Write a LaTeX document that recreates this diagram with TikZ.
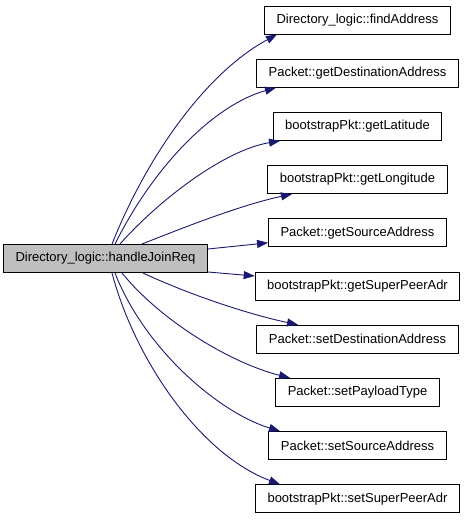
\documentclass[tikz,border=0pt]{standalone}
\usepackage{fontspec}
\setmainfont{Liberation Sans}
\usetikzlibrary{arrows.meta}
\definecolor{edgeblue}{HTML}{191970}
\definecolor{srcgray}{HTML}{BFBFBF}
\tikzset{
    fn/.style={draw=black, fill=white, line width=1pt, inner xsep=12pt,
        minimum height=28pt, font=\fontsize{13}{15}\selectfont},
    call/.style={edgeblue, line width=0.9pt,
        -{Triangle[length=11pt,width=8pt]}}
}
\begin{document}
\begin{tikzpicture}[x=1pt, y=-1pt]
    \useasboundingbox (0,0) rectangle (464,520);
    % caller
    \node[fn, fill=srcgray] (src) at (105.5,258.5) {Directory\_logic::handleJoinReq};
    % callees, one column
    \foreach \lbl [count=\i] in {Directory\_logic::findAddress, Packet::getDestinationAddress,
        bootstrapPkt::getLatitude, bootstrapPkt::getLongitude, Packet::getSourceAddress,
        bootstrapPkt::getSuperPeerAdr, Packet::setDestinationAddress, Packet::setPayloadType,
        Packet::setSourceAddress, bootstrapPkt::setSuperPeerAdr} {
        \node[fn] (t\i) at (357.5, {20+53.2*(\i-1)}) {\lbl};
    }
    % calls going up
    \draw[call] ([xshift=6.5pt]src.north) .. controls +(38,-95) and +(-67,36) .. ([xshift=-80.5pt]t1.south);
    \draw[call] ([xshift=9.5pt]src.north) .. controls +(40,-80) and +(-61,17) .. ([xshift=-81.5pt]t2.south);
    \draw[call] ([xshift=14.5pt]src.north) .. controls +(40,-45) and +(-55,9) .. ([xshift=-77.5pt]t3.south);
    \draw[call] ([xshift=36.5pt]src.north) .. controls +(38,-15) and +(-52,11) .. ([xshift=-65.5pt]t4.south);
    % nearly straight ones
    \draw[call] ([yshift=9.5pt]src.east) -- ([yshift=-10pt]t5.west);
    \draw[call] ([yshift=-13.5pt]src.east) -- ([yshift=10pt]t6.west);
    % calls going down
    \draw[call] ([xshift=37.5pt]src.south) .. controls +(47,22) and +(-48,-10) .. ([xshift=-59.5pt]t7.north);
    \draw[call] ([xshift=16.5pt]src.south) .. controls +(38,47) and +(-60,-15) .. ([xshift=-67.5pt]t8.north);
    \draw[call] ([xshift=9.5pt]src.south) .. controls +(30,77) and +(-60,-18) .. ([xshift=-77.5pt]t9.north);
    \draw[call] ([xshift=6.5pt]src.south) .. controls +(23,87) and +(-80,-30) .. ([xshift=-77.5pt]t10.north);
\end{tikzpicture}
\end{document}
